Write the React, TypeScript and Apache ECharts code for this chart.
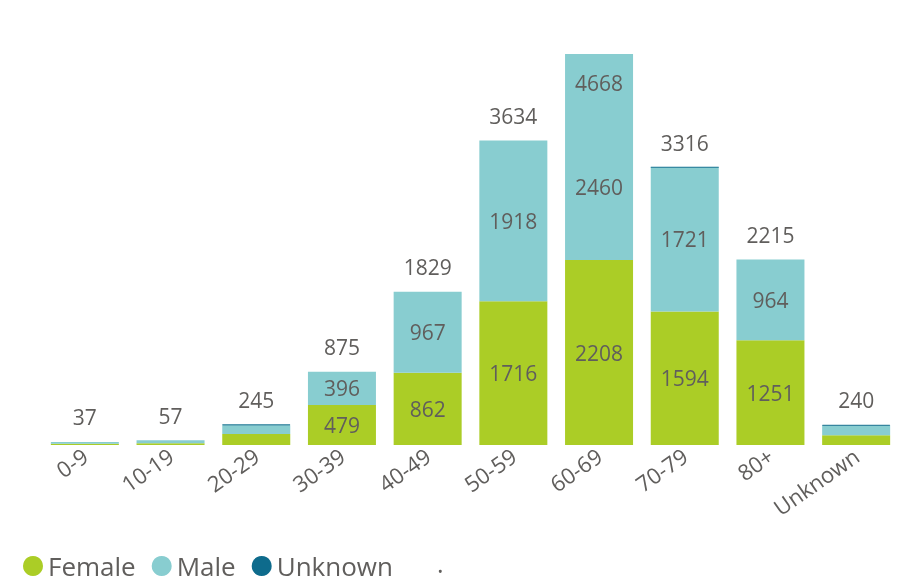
import React, { useEffect, useRef } from "react";
import * as echarts from "echarts";

const categories = ["0-9", "10-19", "20-29", "30-39", "40-49", "50-59", "60-69", "70-79", "80+", "Unknown"];
const femaleVals = [15, 20, 130, 479, 862, 1716, 2208, 1594, 1251, 115];
const maleVals = [22, 37, 105, 396, 967, 1918, 2460, 1721, 964, 115];
const unknownVals = [0, 0, 10, 0, 0, 0, 0, 1, 0, 10];
const totals = [37, 57, 245, 875, 1829, 3634, 4668, 3316, 2215, 240];

const FONT = "'Open Sans', 'Noto Sans', sans-serif";
const GRAY = "#605e5c";
const UNK = "#0e6b8c";

export default function App() {
  const ref = useRef<HTMLDivElement>(null);
  useEffect(() => {
    if (!ref.current) return;
    const chart = echarts.init(ref.current, undefined, { renderer: "svg" });
    const maxTotal = Math.max(...totals);
    const innerLabel = {
      show: true,
      position: "inside",
      color: GRAY,
      fontSize: 21,
      fontFamily: FONT,
      formatter: (p: any) => (p.value >= 300 ? String(p.value) : ""),
    };
    chart.setOption({
      animation: false,
      grid: { left: 42, right: 13, top: 54, bottom: 139 },
      legend: {
        data: ["Female", "Male", "Unknown"],
        left: 18,
        top: 548,
        icon: "circle",
        itemWidth: 20,
        itemHeight: 20,
        itemGap: 16,
        textStyle: { fontSize: 26, lineHeight: 22, color: GRAY, fontFamily: FONT },
      },
      graphic: [
        { type: "text", left: 437, top: 550, style: { text: ".", fontSize: 25, fill: GRAY, fontFamily: FONT } },
      ],
      xAxis: {
        type: "category",
        data: categories,
        axisLine: { show: false },
        axisTick: { show: false },
        axisLabel: { rotate: 35, margin: 8, fontSize: 22, color: GRAY, fontFamily: FONT, interval: 0 },
      },
      yAxis: { type: "value", min: 0, max: maxTotal, show: false, splitLine: { show: false } },
      series: [
        {
          name: "Female",
          type: "bar",
          stack: "s",
          stackStrategy: "all",
          barWidth: 68,
          itemStyle: { color: "#abcd26" },
          label: innerLabel,
          data: femaleVals,
        },
        {
          name: "Male",
          type: "bar",
          stack: "s",
          stackStrategy: "all",
          barWidth: 68,
          itemStyle: { color: "#88cdd0" },
          label: innerLabel,
          data: maleVals.map((v, i) =>
            totals[i] === maxTotal ? { value: v, label: { offset: [0, 30] } } : v
          ),
        },
        {
          name: "Unknown",
          type: "bar",
          stack: "s",
          stackStrategy: "all",
          barWidth: 68,
          itemStyle: { color: UNK },
          data: unknownVals.map((v) =>
            v === 0 ? v : { value: v, itemStyle: { borderColor: UNK, borderWidth: 0.6 } }
          ),
        },
        {
          name: "Total",
          type: "bar",
          stack: "s",
          stackStrategy: "all",
          barWidth: 68,
          itemStyle: { color: "transparent" },
          label: {
            show: true,
            position: "top",
            distance: 14,
            color: GRAY,
            fontSize: 21,
            fontFamily: FONT,
            formatter: (p: any) => String(totals[p.dataIndex]),
          },
          data: totals.map((t) =>
            t === maxTotal ? { value: 0, label: { position: "bottom", distance: 18 } } : 0
          ),
        },
      ],
    });
    return () => chart.dispose();
  }, []);
  return <div ref={ref} style={{ position: "fixed", left: 0, top: 0, width: 912, height: 584 }} />;
}
